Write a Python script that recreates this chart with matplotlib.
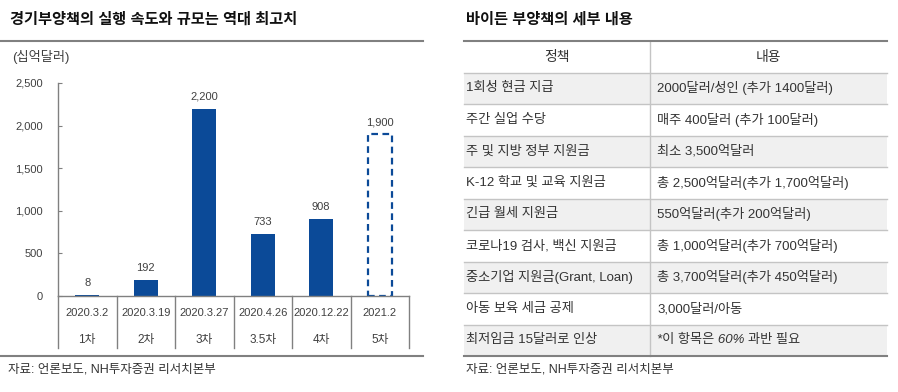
import matplotlib.pyplot as plt
from matplotlib.patches import Rectangle

plt.rcParams['font.family'] = ['Liberation Sans', 'Noto Sans CJK KR']

# left chart data
dates = ["2020.3.2", "2020.3.19", "2020.3.27", "2020.4.26", "2020.12.22", "2021.2"]
rounds = ["1차", "2차", "3차", "3.5차", "4차", "5차"]
amounts = [8, 192, 2200, 733, 908, 1900]
planned = [False, False, False, False, False, True]
yticks = [0, 500, 1000, 1500, 2000, 2500]

# right table data
headers = ["정책", "내용"]
policies = ["1회성 현금 지급", "주간 실업 수당", "주 및 지방 정부 지원금",
            "K-12 학교 및 교육 지원금", "긴급 월세 지원금", "코로나19 검사, 백신 지원금",
            "중소기업 지원금(Grant, Loan)", "아동 보육 세금 공제", "최저임금 15달러로 인상"]
details = ["2000달러/성인 (추가 1400달러)", "매주 400달러 (추가 100달러)", "최소 3,500억달러",
           "총 2,500억달러(추가 1,700억달러)", "550억달러(추가 200억달러)",
           "총 1,000억달러(추가 700억달러)", "총 3,700억달러(추가 450억달러)",
           "3,000달러/아동", "*이 항목은 60% 과반 필요"]

NAVY = '#0b4a98'
TXT = '#333333'
GRAY = '#808080'
W, H = 898, 392

fig = plt.figure(figsize=(8.98, 3.92), dpi=100)
canvas = fig.add_axes([0, 0, 1, 1])
canvas.set_xlim(0, W)
canvas.set_ylim(H, 0)
canvas.axis('off')

# ---- left panel ----
canvas.text(10, 20, "경기부양책의 실행 속도와 규모는 역대 최고치", fontsize=11,
            fontweight='bold', va='center', color='#111111')
canvas.plot([0, 423], [41, 41], color=GRAY, lw=1.5)
canvas.plot([0, 423], [356, 356], color=GRAY, lw=1.5)
canvas.text(12, 57, "(십억달러)", fontsize=9.5, va='center', color='#404040')
canvas.text(8, 369, "자료: 언론보도, NH투자증권 리서치본부", fontsize=9, va='center', color=TXT)

ax = fig.add_axes([58 / W, 1 - 296 / H, (409 - 58) / W, (296 - 83) / H])
for i, (v, p) in enumerate(zip(amounts, planned)):
    if p:
        ax.bar(i, v, width=0.41, facecolor='white', edgecolor=NAVY,
               linestyle=(0, (3, 2)), linewidth=1.6)
    else:
        ax.bar(i, v, width=0.41, color=NAVY)
    ax.annotate(f"{v:,}", (i, v), xytext=(0, 5), textcoords='offset points',
                ha='center', va='bottom', fontsize=8, color='#404040')

ax.set_xlim(-0.5, len(amounts) - 0.5)
ax.set_ylim(0, 2500)
ax.set_yticks(yticks)
ax.set_yticklabels([f"{t:,}" for t in yticks])
ax.set_xticks([])
ax.tick_params(axis='y', direction='in', length=3, color=GRAY, labelsize=8,
               labelcolor='#404040', pad=11)
for s in ['top', 'right']:
    ax.spines[s].set_visible(False)
for s in ['left', 'bottom']:
    ax.spines[s].set_color(GRAY)
    ax.spines[s].set_linewidth(1)

tr = ax.get_xaxis_transform()
for i in range(len(dates)):
    ax.text(i, -0.08, dates[i], transform=tr, ha='center', va='center',
            fontsize=8, color='#404040')
    ax.text(i, -0.207, rounds[i], transform=tr, ha='center', va='center',
            fontsize=8.5, color='#404040')
for b in range(len(dates) + 1):
    ax.plot([b - 0.5, b - 0.5], [0, -0.244], transform=tr, clip_on=False,
            color=GRAY, lw=1)

# ---- right panel ----
x0, xm, x1 = 464, 650, 887
top, bottom = 41, 356
row_h = (bottom - top) / (len(policies) + 1)

canvas.text(466, 20, "바이든 부양책의 세부 내용", fontsize=11, fontweight='bold',
            va='center', color='#111111')

for i in range(len(policies)):
    if i % 2 == 0:
        canvas.add_patch(Rectangle((x0, top + (i + 1) * row_h), x1 - x0, row_h,
                                   facecolor='#f0f0f0', edgecolor='none'))
for k in range(1, len(policies) + 1):
    canvas.plot([x0, x1], [top + k * row_h] * 2, color='#c4c4c4', lw=1)
canvas.plot([xm, xm], [top, bottom], color='#c4c4c4', lw=1)
canvas.plot([x0, x1], [top, top], color=GRAY, lw=1.5)
canvas.plot([x0, x1], [bottom, bottom], color=GRAY, lw=1.5)

canvas.text((x0 + xm) / 2, top + row_h / 2, headers[0], ha='center', va='center',
            fontsize=10, color=TXT)
canvas.text((xm + x1) / 2, top + row_h / 2, headers[1], ha='center', va='center',
            fontsize=10, color=TXT)
for i, (pol, det) in enumerate(zip(policies, details)):
    yc = top + (i + 1.5) * row_h
    canvas.text(466, yc, pol, va='center', fontsize=9.5, color=TXT)
    canvas.text(657, yc, det, va='center', fontsize=9.5, color=TXT,
                style='italic' if det.startswith('*') else 'normal')

canvas.text(466, 369, "자료: 언론보도, NH투자증권 리서치본부", fontsize=9, va='center', color=TXT)

fig.savefig('out.png', dpi=100)
